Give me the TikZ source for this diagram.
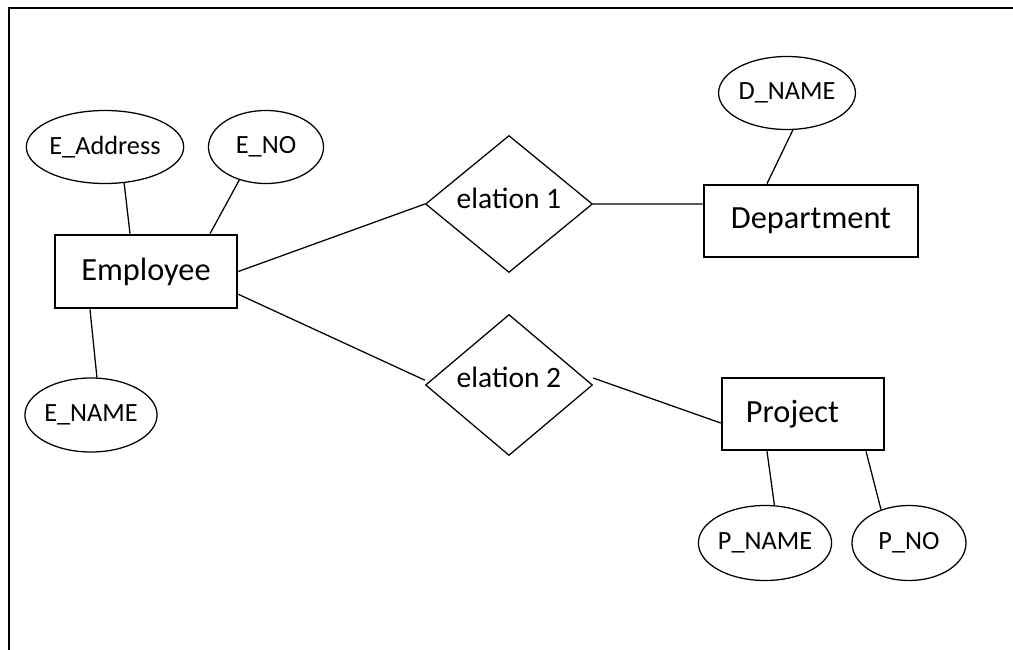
\documentclass[tikz,border=0pt]{standalone}
\usepackage{fontspec}
\setmainfont{Carlito}
\usepackage{tikz}
\usetikzlibrary{positioning,shapes.geometric}

\begin{document}
\begin{tikzpicture}[x=0.025cm,y=-0.025cm,
    entity/.style={draw,line width=1.8pt,inner sep=0pt,font=\fontsize{23}{27}\selectfont},
    attr/.style={ellipse,draw,line width=0.9pt,inner sep=0pt,font=\fontsize{18.7}{22}\selectfont},
    rel/.style={diamond,draw,line width=0.9pt,inner sep=0pt,minimum width=4.175cm,minimum height=3.4cm,
      text depth=0.3cm,font=\fontsize{21}{25}\selectfont},
    link/.style={line width=0.9pt}]
      \useasboundingbox (0,0) rectangle (1013,650);

      % frame
      \draw[line width=2.1pt] (9,655) -- (9,8) -- (1018,8);

      % Employee and its attributes
      \node[entity,minimum width=4.55cm,minimum height=1.825cm] (emp) at (146,271.5) {Employee};
      \node[attr,minimum width=3.9cm,minimum height=1.825cm] (eaddr) at (105,147) {E\_Address};
      \node[attr,minimum width=2.875cm,minimum height=1.825cm] (eno) at (266,147) {E\_NO};
      \node[attr,minimum width=3.275cm,minimum height=1.85cm] (ename) at (91,415) {E\_NAME};

      \draw[link] (eaddr.-62) -- ([xshift=-0.4cm]emp.north);
      \draw[link] (eno.-129) -- ([xshift=1.6cm]emp.north);
      \draw[link] ([xshift=-1.4cm]emp.south) -- (ename.81);

      % relationships
      \node[rel] (rel1) at (509,204) {elation 1};
      \node[rel,text depth=0.4cm] (rel2) at (509,385) {elation 2};

      \draw[link] (emp.east) -- (rel1.west);
      \draw[link] ([yshift=0.375cm]emp.south east) -- ([yshift=0.12cm]rel2.west);

      % Department
      \node[entity,minimum width=5.35cm,minimum height=1.8cm] (dept) at (811,221) {Department};
      \node[attr,minimum width=3.275cm,minimum height=1.825cm] (dname) at (787,93) {D\_NAME};

      \draw[link] (rel1.east) -- ([yshift=0.425cm]dept.west);
      \draw[link] (dname.-81) -- ([xshift=-1.1cm]dept.north);

      % Project
      \node[entity,minimum width=4.05cm,minimum height=1.8cm,text width=2.85cm,align=left] (proj) at (803,414) {Project};
      \node[attr,minimum width=3.125cm,minimum height=1.875cm] (pname) at (765,543) {P\_NAME};
      \node[attr,minimum width=2.85cm,minimum height=1.875cm] (pno) at (909,543) {P\_NO};

      \draw[link] ([yshift=0.175cm]rel2.east) -- ([yshift=-0.225cm]proj.west);
      \draw[link] ([xshift=-0.9cm]proj.south) -- (pname.76);
      \draw[link] ([xshift=1.575cm]proj.south) -- (pno.130);

    \end{tikzpicture}
\end{document}
